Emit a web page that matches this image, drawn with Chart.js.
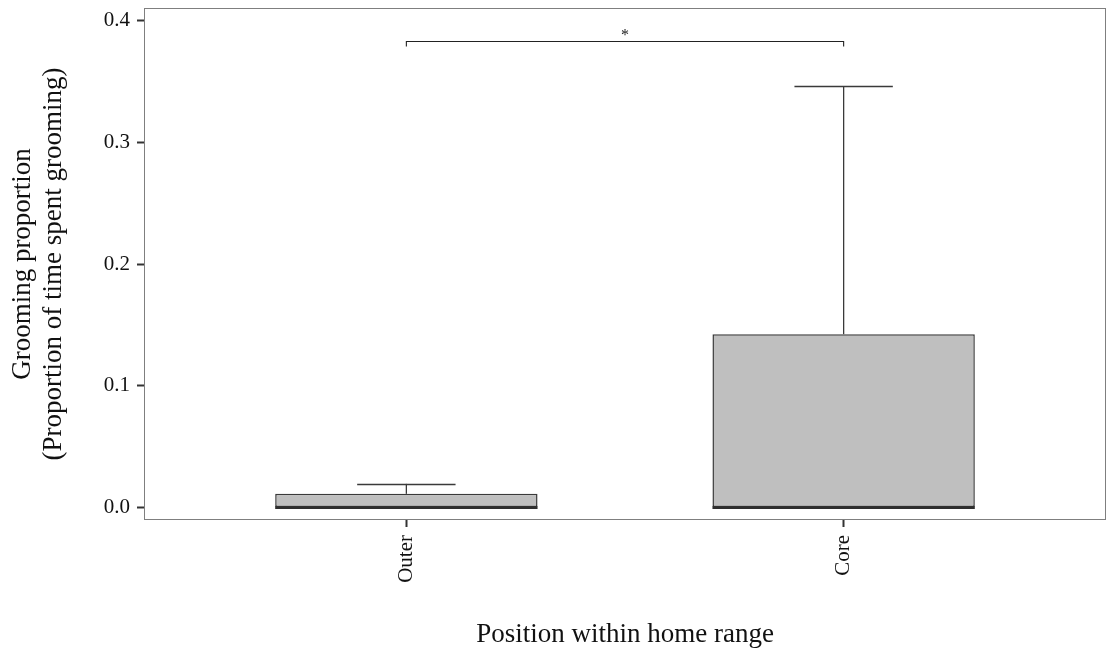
<!DOCTYPE html>
<html>
<head>
<meta charset="utf-8">
<title>Grooming proportion by position within home range</title>
<script src="https://cdn.jsdelivr.net/npm/chart.js@4.4.1/dist/chart.umd.min.js"></script>
<style>
  html, body { margin: 0; padding: 0; background: #ffffff; }
  #wrap { width: 1108px; height: 655px; }
</style>
</head>
<body>
<div id="wrap"><canvas id="chart" width="1108" height="655"></canvas></div>
<script>
// Box-plot summary per home-range position
const categories   = ['Outer', 'Core'];
const categoryPos  = [1, 2];
const lowerQuart   = [0, 0];
const medians      = [0, 0];
const upperQuart   = [0.0113, 0.1425];
const upperWhisker = [0.0195, 0.3465];
const lowerWhisker = [0, 0];

// Significance bracket between the two groups
const bracketY     = 0.3835;
const bracketTipY  = 0.379;
const bracketLabel = '*';

// Axis ticks
const yTicks = [0, 0.1, 0.2, 0.3, 0.4];

const SERIF = '"Liberation Serif", "DejaVu Serif", serif';
const TEXT_COLOR = '#111111';

const boxData = categoryPos.map((x, i) => ({ x: x, y: [lowerQuart[i], upperQuart[i]] }));

// Whiskers, medians, significance bracket and panel border
const boxExtras = {
  id: 'boxExtras',
  afterDatasetsDraw(chart) {
    const { ctx, chartArea, scales: { x, y } } = chart;
    const meta = chart.getDatasetMeta(0);
    ctx.save();
    categoryPos.forEach((pos, i) => {
      const cx = x.getPixelForValue(pos);
      const capHalf = Math.abs(x.getPixelForValue(pos + 0.1125) - cx);
      const bar = meta.data[i];
      const half = bar.width / 2;
      ctx.strokeStyle = '#3a3a3a';
      ctx.lineWidth = 1.3;
      // upper whisker
      if (upperWhisker[i] > upperQuart[i]) {
        ctx.beginPath();
        ctx.moveTo(cx, y.getPixelForValue(upperQuart[i]));
        ctx.lineTo(cx, y.getPixelForValue(upperWhisker[i]));
        ctx.stroke();
      }
      // lower whisker
      if (lowerWhisker[i] < lowerQuart[i]) {
        ctx.beginPath();
        ctx.moveTo(cx, y.getPixelForValue(lowerQuart[i]));
        ctx.lineTo(cx, y.getPixelForValue(lowerWhisker[i]));
        ctx.stroke();
      }
      // whisker caps
      [upperWhisker[i], lowerWhisker[i]].forEach((v, k) => {
        if (k === 1 && lowerWhisker[i] >= lowerQuart[i]) return;
        const py = Math.round(y.getPixelForValue(v)) + 0.5;
        ctx.beginPath();
        ctx.moveTo(cx - capHalf, py);
        ctx.lineTo(cx + capHalf, py);
        ctx.stroke();
      });
      // median
      ctx.strokeStyle = '#2e2e2e';
      ctx.lineWidth = 2.8;
      const my = y.getPixelForValue(medians[i]);
      ctx.beginPath();
      ctx.moveTo(cx - half, my);
      ctx.lineTo(cx + half, my);
      ctx.stroke();
    });

    // significance bracket
    const x1 = x.getPixelForValue(categoryPos[0]);
    const x2 = x.getPixelForValue(categoryPos[1]);
    const by = Math.round(y.getPixelForValue(bracketY)) + 0.5;
    const ty = y.getPixelForValue(bracketTipY);
    ctx.strokeStyle = '#222222';
    ctx.lineWidth = 1.1;
    ctx.beginPath();
    ctx.moveTo(x1, ty);
    ctx.lineTo(x1, by);
    ctx.lineTo(x2, by);
    ctx.lineTo(x2, ty);
    ctx.stroke();
    ctx.fillStyle = '#222222';
    ctx.font = '16px ' + SERIF;
    ctx.textAlign = 'center';
    ctx.textBaseline = 'alphabetic';
    ctx.fillText(bracketLabel, (x1 + x2) / 2, by - 2);

    // panel border
    ctx.strokeStyle = '#7f7f7f';
    ctx.lineWidth = 1;
    ctx.strokeRect(Math.round(chartArea.left) + 0.5, Math.round(chartArea.top) + 0.5,
                   Math.round(chartArea.right - chartArea.left) - 1, Math.round(chartArea.bottom - chartArea.top) - 1);
    ctx.restore();
  }
};

new Chart(document.getElementById('chart'), {
  type: 'bar',
  data: {
    datasets: [{
      data: boxData,
      backgroundColor: '#bfbfbf',
      borderColor: '#3a3a3a',
      borderWidth: 1.5,
      borderSkipped: false,
      categoryPercentage: 1,
      barPercentage: 0.6
    }]
  },
  options: {
    responsive: false,
    devicePixelRatio: 1,
    animation: false,
    events: [],
    layout: { padding: { left: 0, right: 2, top: 8, bottom: 0 } },
    plugins: { legend: { display: false }, tooltip: { enabled: false } },
    scales: {
      x: {
        type: 'linear',
        min: 0.4,
        max: 2.6,
        offset: false,
        afterBuildTicks(scale) { scale.ticks = categoryPos.map(v => ({ value: v })); },
        afterFit(scale) {
          scale.height = 135;
          scale.paddingLeft = 0; scale.paddingRight = 0;
        },
        ticks: {
          autoSkip: false,
          minRotation: 90,
          maxRotation: 90,
          padding: 8,
          color: TEXT_COLOR,
          font: { family: SERIF, size: 21 },
          callback(value) {
            const i = categoryPos.indexOf(value);
            return i >= 0 ? categories[i] : '';
          }
        },
        grid: {
          offset: false,
          drawOnChartArea: false,
          drawTicks: true,
          tickLength: 7,
          tickWidth: 2,
          tickColor: '#333333'
        },
        border: { display: false },
        title: {
          display: true,
          text: 'Position within home range',
          color: TEXT_COLOR,
          font: { family: SERIF, size: 27, lineHeight: 1.15 },
          padding: { top: 0, bottom: 5 }
        }
      },
      y: {
        type: 'linear',
        min: -0.0102,
        max: 0.4106,
        afterBuildTicks(scale) { scale.ticks = yTicks.map(v => ({ value: v })); },
        afterFit(scale) {
          scale.width = 144;
          scale.paddingTop = 0; scale.paddingBottom = 0;
        },
        ticks: {
          padding: 7,
          color: TEXT_COLOR,
          font: { family: SERIF, size: 21 },
          callback(value) { return value.toFixed(1); }
        },
        grid: {
          drawOnChartArea: false,
          drawTicks: true,
          tickLength: 7,
          tickWidth: 2,
          tickColor: '#333333'
        },
        border: { display: false },
        title: {
          display: true,
          text: ['Grooming proportion', '(Proportion of time spent grooming)'],
          color: TEXT_COLOR,
          font: { family: SERIF, size: 27, lineHeight: 1.15 },
          padding: { top: 7, bottom: 0 }
        }
      }
    }
  },
  plugins: [boxExtras]
});
</script>
</body>
</html>
